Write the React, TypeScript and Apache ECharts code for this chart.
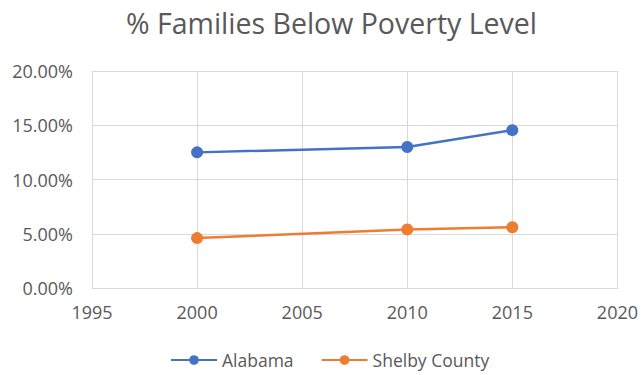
import React, { useEffect, useRef } from "react";
import * as echarts from "echarts";

const years = [2000, 2010, 2015];
const alabama = [12.5, 13.0, 14.55];
const shelby = [4.6, 5.4, 5.6];
const seriesNames = ["Alabama", "Shelby County"];
const titleText = "% Families Below Poverty Level";

export default function App() {
  const ref = useRef<HTMLDivElement>(null);
  useEffect(() => {
    if (!ref.current) return;
    const chart = echarts.init(ref.current, undefined, { renderer: "svg" });
    const font = "Open Sans, sans-serif";
    chart.setOption({
      animation: false,
      backgroundColor: "#ffffff",
      title: {
        text: titleText,
        left: 121,
        top: 3,
        textStyle: { color: "#595959", fontSize: 28.5, fontWeight: "normal", fontFamily: font },
      },
      grid: { left: 92, right: 23, top: 71, bottom: 87, containLabel: false },
      legend: {
        bottom: 1,
        left: 165,
        itemWidth: 46,
        itemHeight: 12,
        itemGap: 27,
        textStyle: { color: "#595959", fontSize: 17.5, fontFamily: font },
        data: seriesNames,
      },
      xAxis: {
        type: "value",
        min: 1995,
        max: 2020,
        interval: 5,
        axisLine: { show: true, lineStyle: { color: "#d9d9d9", width: 1 } },
        axisTick: { show: false },
        splitLine: { show: true, lineStyle: { color: "#d9d9d9", width: 1 } },
        axisLabel: {
          color: "#595959",
          fontSize: 18,
          fontFamily: font,
          margin: 15,
          formatter: (v: number) => String(v),
        },
      },
      yAxis: {
        type: "value",
        min: 0,
        max: 20,
        interval: 5,
        axisLine: { show: false },
        axisTick: { show: false },
        splitLine: { show: true, lineStyle: { color: "#d9d9d9", width: 1 } },
        axisLabel: {
          color: "#595959",
          fontSize: 18,
          fontFamily: font,
          margin: 19,
          formatter: (v: number) => v.toFixed(2) + "%",
        },
      },
      series: [
        {
          name: seriesNames[0],
          type: "line",
          data: years.map((y, i) => [y, alabama[i]]),
          symbol: "circle",
          symbolSize: 12,
          itemStyle: { color: "#4472c4" },
          lineStyle: { color: "#4472c4", width: 2.5 },
        },
        {
          name: seriesNames[1],
          type: "line",
          data: years.map((y, i) => [y, shelby[i]]),
          symbol: "circle",
          symbolSize: 12,
          itemStyle: { color: "#ed7d31" },
          lineStyle: { color: "#ed7d31", width: 2.5 },
        },
      ],
    });
    return () => chart.dispose();
  }, []);
  return <div ref={ref} style={{ width: 641, height: 375, position: "absolute", left: 0, top: 0 }} />;
}
